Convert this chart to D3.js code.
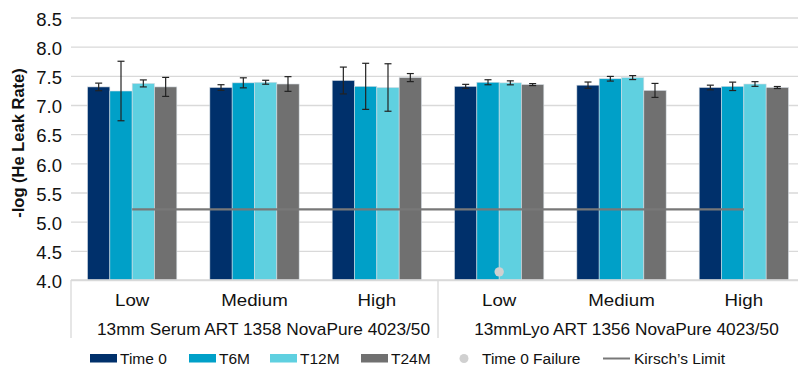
<!DOCTYPE html>
<html>
<head>
<meta charset="utf-8">
<script src="https://cdn.jsdelivr.net/npm/d3@7"></script>
<style>
  body { margin: 0; background: #fff; }
  svg { display: block; font-family: "Liberation Sans", Arial, sans-serif; }
</style>
</head>
<body>
<div id="chart"></div>
<script>
// data
const categories = ["Low", "Medium", "High", "Low", "Medium", "High"];
const groups = ["13mm Serum ART 1358 NovaPure 4023/50", "13mmLyo ART 1356 NovaPure 4023/50"];
const seriesNames = ["Time 0", "T6M", "T12M", "T24M"];

const time0 = [7.31, 7.30, 7.42, 7.32, 7.34, 7.30];
const t6m   = [7.24, 7.38, 7.32, 7.39, 7.45, 7.32];
const t12m  = [7.37, 7.39, 7.30, 7.38, 7.47, 7.36];
const t24m  = [7.31, 7.36, 7.47, 7.35, 7.25, 7.30];

const time0Err = [0.065, 0.048, 0.23, 0.034, 0.054, 0.04];
const t6mErr   = [0.51, 0.086, 0.395, 0.043, 0.04, 0.072];
const t12mErr  = [0.06, 0.034, 0.407, 0.034, 0.034, 0.04];
const t24mErr  = [0.163, 0.126, 0.069, 0.017, 0.12, 0.017];

const time0Failure = [null, null, null, 4.14, null, null];
const kirschLimit = 5.21;

const yTicks = [4.0, 4.5, 5.0, 5.5, 6.0, 6.5, 7.0, 7.5, 8.0, 8.5];

const colors = ["#00306b", "#00a0c8", "#5fd0e0", "#707070"];

const width = 798;
const height = 366;
const plotLeft = 71, plotRight = 805, plotTop = 17.5, plotBottom = 280;

const svg = d3.select("#chart").append("svg")
    .attr("width", width)
    .attr("height", height);

const x0 = d3.scaleBand()
    .domain(d3.range(categories.length))
    .range([plotLeft, plotRight])
    .paddingInner(0.27)
    .paddingOuter(0.135);

const x1 = d3.scaleBand()
    .domain(seriesNames)
    .range([0, x0.bandwidth()]);

const y = d3.scaleLinear()
    .domain([4, 8.5])
    .range([plotBottom, plotTop]);

// gridlines + tick labels
const yAxis = svg.append("g")
    .attr("transform", `translate(${plotLeft},0)`)
    .call(d3.axisLeft(y).tickValues(yTicks).tickFormat(d3.format(".1f"))
        .tickSize(-(plotRight - plotLeft)).tickPadding(9));
yAxis.select(".domain").remove();
yAxis.selectAll(".tick line").attr("stroke", "#d9d9d9").attr("stroke-width", 1.3);
yAxis.selectAll(".tick text")
    .attr("font-size", 18.5)
    .attr("fill", "#111")
    .attr("dy", "0.42em")
    .style("font-family", "'Liberation Sans', Arial, sans-serif");

// axis title
svg.append("text")
    .attr("transform", "translate(24,143) rotate(-90)")
    .attr("text-anchor", "middle")
    .attr("font-size", 16.5)
    .attr("font-weight", "bold")
    .attr("fill", "#111")
    .text("-log (He Leak Rate)");

// bars
const series = [time0, t6m, t12m, t24m];
const errs = [time0Err, t6mErr, t12mErr, t24mErr];
const barData = [];
categories.forEach((c, i) => {
    seriesNames.forEach((s, k) => {
        barData.push({ cat: i, name: s, k: k, value: series[k][i], err: errs[k][i] });
    });
});

svg.append("g").selectAll("rect")
    .data(barData)
    .enter().append("rect")
    .attr("x", d => x0(d.cat) + x1(d.name))
    .attr("y", d => y(d.value))
    .attr("width", x1.bandwidth())
    .attr("height", d => y(4) - y(d.value))
    .attr("fill", d => colors[d.k])
    .attr("stroke", "#d6dde3")
    .attr("stroke-width", 0.6);

// error bars
const eb = svg.append("g")
    .attr("stroke", "#222")
    .attr("stroke-width", 1.2);
barData.forEach(d => {
    const cx = x0(d.cat) + x1(d.name) + x1.bandwidth() / 2;
    const y1 = y(d.value + d.err), y2 = y(d.value - d.err);
    eb.append("line").attr("x1", cx).attr("x2", cx).attr("y1", y1).attr("y2", y2);
    eb.append("line").attr("x1", cx - 3.5).attr("x2", cx + 3.5).attr("y1", y1).attr("y2", y1);
    eb.append("line").attr("x1", cx - 3.5).attr("x2", cx + 3.5).attr("y1", y2).attr("y2", y2);
});

// Kirsch's limit line, centre of first to last category
const center = i => x0(i) + x0.bandwidth() / 2;
svg.append("line")
    .attr("x1", center(0))
    .attr("x2", center(categories.length - 1))
    .attr("y1", y(kirschLimit))
    .attr("y2", y(kirschLimit))
    .attr("stroke", "#787878")
    .attr("stroke-width", 2.2);

// time 0 failure points
svg.append("g").selectAll("circle")
    .data(time0Failure.map((v, i) => ({ v, i })).filter(d => d.v !== null))
    .enter().append("circle")
    .attr("cx", d => center(d.i))
    .attr("cy", d => y(d.v))
    .attr("r", 4.7)
    .attr("fill", "#d0d0d0");

// category axis
svg.append("line")
    .attr("x1", plotLeft).attr("x2", plotRight)
    .attr("y1", plotBottom).attr("y2", plotBottom)
    .attr("stroke", "#d9d9d9").attr("stroke-width", 1.5);

const step = x0.step();
const groupEdges = [plotLeft, plotLeft + 3 * step, plotRight];
svg.append("g").selectAll("line")
    .data(groupEdges)
    .enter().append("line")
    .attr("x1", d => d).attr("x2", d => d)
    .attr("y1", plotBottom).attr("y2", 338)
    .attr("stroke", "#d9d9d9").attr("stroke-width", 1.3);

svg.append("g").selectAll("text")
    .data(categories)
    .enter().append("text")
    .attr("transform", (d, i) => `translate(${center(i)},305.5) scale(1.1,1)`)
    .attr("text-anchor", "middle")
    .attr("font-size", 17)
    .attr("fill", "#111")
    .text(d => d);

svg.append("g").selectAll("text")
    .data(groups)
    .enter().append("text")
    .attr("transform", (d, g) => {
        const cx = (groupEdges[g] + groupEdges[g + 1]) / 2 + (g === 0 ? 9 : 5);
        return `translate(${cx},335) scale(1.04,1)`;
    })
    .attr("text-anchor", "middle")
    .attr("font-size", 16.6)
    .attr("fill", "#111")
    .text(d => d);

// legend
const legendLabels = ["Time 0", "T6M", "T12M", "T24M", "Time 0 Failure", "Kirsch\u2019s Limit"];
const legendX = [90, 189, 270, 361, 459, 603];
const legend = svg.append("g");
legendLabels.forEach((lab, i) => {
    const lx = legendX[i];
    let tx;
    if (i < 4) {
        legend.append("rect")
            .attr("x", lx).attr("y", 354).attr("width", 27).attr("height", 8.5)
            .attr("fill", colors[i]);
        tx = lx + 30;
    } else if (i === 4) {
        legend.append("circle")
            .attr("cx", lx + 5).attr("cy", 358.5).attr("r", 4.5)
            .attr("fill", "#d0d0d0");
        tx = lx + 23;
    } else {
        legend.append("line")
            .attr("x1", lx).attr("x2", lx + 27)
            .attr("y1", 358.5).attr("y2", 358.5)
            .attr("stroke", "#787878").attr("stroke-width", 2);
        tx = lx + 31;
    }
    legend.append("text")
        .attr("x", tx).attr("y", 364)
        .attr("font-size", 15.5)
        .attr("fill", "#111")
        .text(lab);
});
</script>
</body>
</html>
